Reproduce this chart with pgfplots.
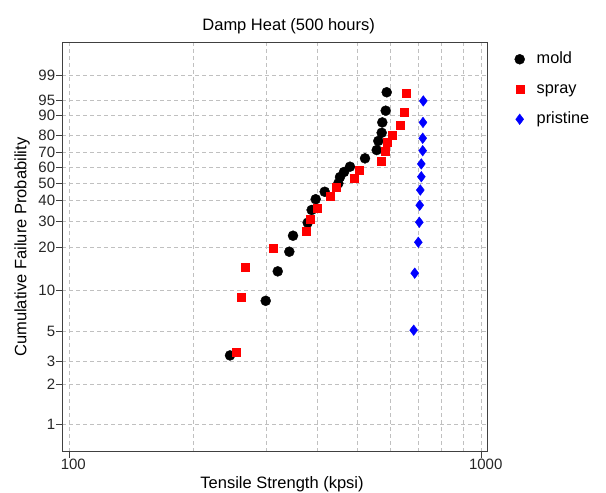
\documentclass[border=0pt]{standalone}
\usepackage{fontspec}
\setmainfont{Liberation Sans}
\usepackage{pgfplots}
\usepackage{pgfplotstable}
\pgfplotsset{compat=1.18}

\definecolor{gridgray}{HTML}{C0C0C0}
\definecolor{framegray}{HTML}{404040}

% tensile strength (kpsi) vs cumulative failure probability (%)
\pgfplotstableread{
x F
245.3 3.3
299.4 8.4
320.2 13.7
341.6 18.8
348.7 24.1
378.5 29.3
387.0 35.2
395.8 40.8
416.2 45.0
449.1 50.0
453.3 53.9
463.6 57.1
479.3 60.5
521.2 65.9
556.4 71.2
561.4 76.8
572.1 81.5
574.1 86.8
585.1 91.7
588.4 96.8
}\mold

\pgfplotstableread{
x F
254.6 3.5
260.4 9.0
266.3 14.6
312.4 20.0
375.0 25.8
383.5 30.8
399.4 36.3
428.8 42.3
444.1 47.7
490.1 53.2
506.0 58.4
570.7 64.2
582.7 70.5
589.3 75.9
608.3 80.4
633.6 85.7
650.5 91.2
656.4 96.7
}\spray

\pgfplotstableread{
x F
684.1 5.1
688.0 13.3
702.0 21.8
705.9 29.5
707.5 37.6
709.8 46.0
713.8 54.1
713.8 62.3
719.4 70.8
719.4 78.4
720.6 86.8
721.8 94.8
}\pristine

\begin{document}
\begin{tikzpicture}
\useasboundingbox (-62.3pt,-41.3pt) rectangle (543.7pt,451.7pt);
\begin{axis}[
  at={(0,0)}, anchor=south west,
  scale only axis, width=425.4pt, height=409pt,
  xmode=log, xmin=96.17, xmax=1034.1,
  ymin=-5.0875, ymax=2.1078,
  xtick={100,1000}, xticklabels={100,1000},
  minor xtick={200,300,400,500,600,700,800,900},
  ytick={-4.60015,-3.90194,-3.49137,-2.97020,-2.25037,-1.49994,-1.03093,-0.67166,-0.36651,-0.08742,0.18563,0.47588,0.83403,1.09719,1.52718},
  yticklabels={1,2,3,5,10,20,30,40,50,60,70,80,90,95,99},
  xmajorgrids, xminorgrids, ymajorgrids,
  grid style={gridgray, dash pattern=on 4pt off 3pt, line width=0.6pt},
  minor grid style={gridgray, dash pattern=on 4pt off 3pt, line width=0.6pt},
  axis line style={framegray, line width=0.8pt},
  tick align=outside, tick pos=left,
  major tick length=6pt, minor tick length=0pt,
  tick style={framegray, line width=0.8pt},
  /pgf/number format/assume math mode=true,
  ticklabel style={font=\fontsize{15}{17}\selectfont, text=black!85},
  yticklabel style={inner sep=1pt},
  xticklabel style={inner sep=1pt, xshift=4pt},
  title={Damp Heat (500 hours)},
  title style={at={(axis description cs:0.532,1)}, anchor=center, yshift=10.5pt, font=\fontsize{16.5}{19}\selectfont},
  xlabel={Tensile Strength (kpsi)},
  xlabel style={at={(axis description cs:0.5165,0)}, anchor=center, yshift=-33pt, font=\fontsize{16.5}{19}\selectfont},
  ylabel={Cumulative Failure Probability},
  ylabel style={at={(axis description cs:-0.0947,0.5)}, anchor=center, font=\fontsize{16.5}{19}\selectfont},
  legend style={at={(axis description cs:1.063,0.982)}, anchor=north west, draw=none, fill=none,
    font=\fontsize{16.3}{19}\selectfont, inner sep=0pt, row sep=12pt, column sep=11pt,
    nodes={inner sep=1pt, text height=12pt, text depth=4pt}},
  legend cell align=left,
  clip=false,
]
\addplot[only marks, mark=*, mark size=5pt, mark options={fill=black, draw=black, line width=0.4pt}]
  table[x=x, y expr={ln(-ln(1-\thisrow{F}/100))}] {\mold};
\addlegendentry{mold}
\addplot[only marks, mark=square*, mark size=4pt, mark options={fill=red, draw=red, line width=0.4pt}]
  table[x=x, y expr={ln(-ln(1-\thisrow{F}/100))}] {\spray};
\addlegendentry{spray}
\addplot[only marks, mark=diamond*, mark size=5.3pt, mark options={fill=blue, draw=blue, line width=0.4pt}]
  table[x=x, y expr={ln(-ln(1-\thisrow{F}/100))}] {\pristine};
\addlegendentry{pristine}
\end{axis}
\end{tikzpicture}
\end{document}
